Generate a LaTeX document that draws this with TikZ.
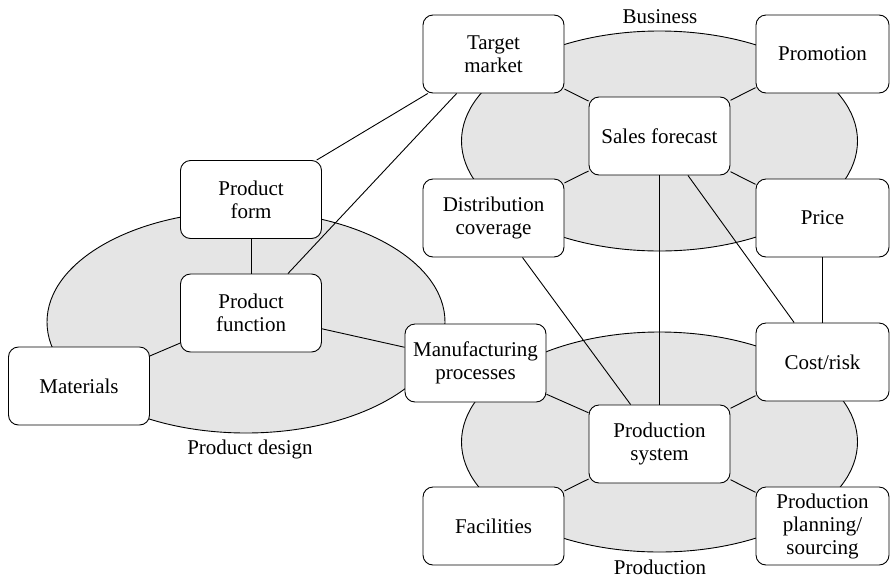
\documentclass[tikz,border=0pt]{standalone}
\usepackage{fontspec}
\setmainfont{Liberation Serif}
\begin{document}
\begin{tikzpicture}[x=1pt,y=-1pt,
  box/.style={draw=black, line width=0.9pt, fill=white, rounded corners=10pt,
    minimum width=141pt, minimum height=78pt, inner sep=0pt, align=center,
    font=\fontsize{21}{23}\selectfont},
  rbox/.style={box, minimum width=133pt},
  zone/.style={draw=black, line width=0.9pt, fill=black!10},
  link/.style={draw=black, line width=0.9pt},
  lbl/.style={font=\fontsize{21}{23}\selectfont, inner sep=0pt}]
\useasboundingbox (0,0) rectangle (891,579);
% ellipses
\draw[zone] (659.5,141) ellipse [x radius=198, y radius=110];
\draw[zone] (659.5,442) ellipse [x radius=198, y radius=110];
\draw[zone] (246,322) ellipse [x radius=199, y radius=111];
% labels
\node[lbl] (lbus) at (660,17) {Business};
\node[lbl] (lprod) at (660,567) {Production};
\node[lbl] (lpd) at (250,449) {Product design};
% nodes
\node[box] (tm) at (493.5,54) {Target\\market};
\node[rbox] (promo) at (822.5,54) {Promotion};
\node[box] (sf) at (659.5,136) {Sales forecast};
\node[box] (dc) at (493.5,218) {Distribution\\coverage};
\node[rbox] (price) at (822.5,218) {Price};
\node[box] (pform) at (251,199.5) {Product\\form};
\node[box] (pfunc) at (251,313) {Product\\function};
\node[box] (mat) at (79,386) {Materials};
\node[box] (mp) at (475.5,363) {Manufacturing\\processes};
\node[rbox] (cr) at (822.5,362) {Cost/risk};
\node[box] (ps) at (659.5,444) {Production\\system};
\node[box] (fac) at (493.5,526) {Facilities};
\node[rbox] (pps) at (822.5,526) {Production\\planning/\\sourcing};
% connectors
\draw[link] (tm) -- (sf);
\draw[link] (promo) -- (sf);
\draw[link] (dc) -- (sf);
\draw[link] (price) -- (sf);
\draw[link] (mp) -- (ps);
\draw[link] (cr) -- (ps);
\draw[link] (fac) -- (ps);
\draw[link] (pps) -- (ps);
\draw[link] (pform) -- (pfunc);
\draw[link] (mat) -- (pfunc);
\draw[link] (pfunc) -- (mp);
\draw[link] (tm) -- (pform);
\draw[link] (tm) -- (pfunc);
\draw[link] (dc) -- (ps);
\draw[link] (sf) -- (ps);
\draw[link] (sf) -- (cr);
\draw[link] (price) -- (cr);
\end{tikzpicture}
\end{document}
